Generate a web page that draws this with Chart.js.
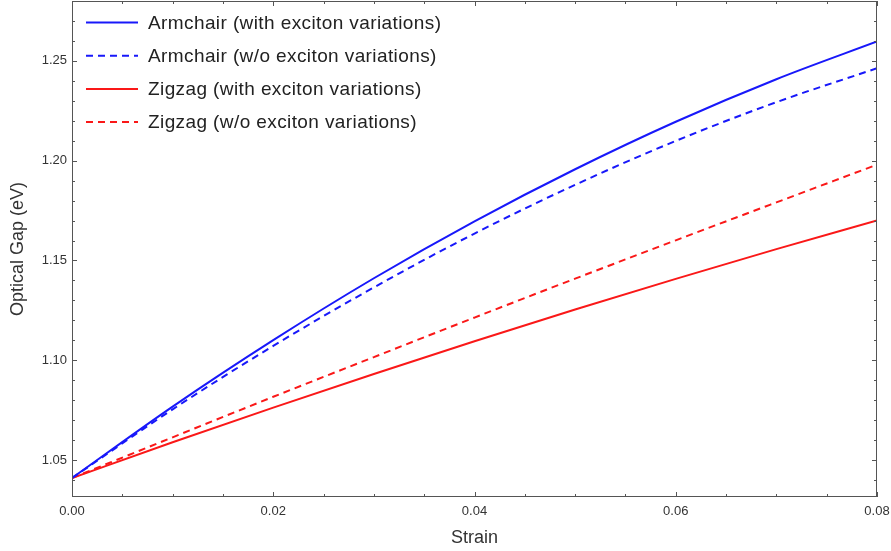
<!DOCTYPE html>
<html>
<head>
<meta charset="utf-8">
<script src="https://cdn.jsdelivr.net/npm/chart.js@4"></script>
<style>
  html, body { margin: 0; padding: 0; background: #fff; }
  #wrap { width: 891px; height: 551px; }
</style>
</head>
<body>
<div id="wrap"><canvas id="gapChart" width="891" height="551"></canvas></div>
<script>
// strain values and optical gap (eV) for each curve
const strain = [0, 0.01, 0.02, 0.03, 0.04, 0.05, 0.06, 0.07, 0.08];
const armchairWith = [1.041, 1.0768, 1.1101, 1.1411, 1.1696, 1.1957, 1.2195, 1.2408, 1.2597];
const armchairWithout = [1.041, 1.0754, 1.1072, 1.1365, 1.1635, 1.1879, 1.2099, 1.2293, 1.2463];
const zigzagWith = [1.041, 1.0589, 1.0763, 1.0931, 1.1095, 1.1254, 1.1408, 1.1557, 1.1700];
const zigzagWithout = [1.041, 1.0614, 1.0817, 1.1016, 1.1214, 1.1409, 1.1601, 1.1791, 1.1980];

const seriesLabels = [
    'Armchair (with exciton variations)',
    'Armchair (w/o exciton variations)',
    'Zigzag (with exciton variations)',
    'Zigzag (w/o exciton variations)'
];

const xTicks = [0, 0.02, 0.04, 0.06, 0.08];
const yTicks = [1.05, 1.10, 1.15, 1.20, 1.25];

const BLUE = 'rgb(24, 24, 250)';
const RED = 'rgb(250, 24, 24)';
const FRAME = '#555';
const FONT = "'Liberation Sans', Arial, sans-serif";

function toPoints(ys) {
    return strain.map((x, i) => ({ x: x, y: ys[i] }));
}

function makeSet(label, ys, color, dashed) {
    return {
        label: label,
        data: toPoints(ys),
        borderColor: color,
        backgroundColor: color,
        borderWidth: 2,
        borderDash: dashed ? [7, 5] : [],
        pointRadius: 0,
        fill: false,
        cubicInterpolationMode: 'monotone'
    };
}

// frame with inward major/minor ticks on all four sides
const frameTicks = {
    id: 'frameTicks',
    afterDatasetsDraw(chart) {
        const { ctx, chartArea: a, scales: { x, y } } = chart;
        ctx.save();
        ctx.strokeStyle = FRAME;
        ctx.lineWidth = 1;
        ctx.strokeRect(a.left + 0.5, a.top + 0.5, a.right - a.left - 1, a.bottom - a.top - 1);

        ctx.beginPath();
        for (let i = 0; i <= 16; i++) {
            const v = i * 0.005;
            const len = (i % 4 === 0) ? 5 : 3;
            const px = Math.round(x.getPixelForValue(v)) + 0.5;
            ctx.moveTo(px, a.bottom); ctx.lineTo(px, a.bottom - len);
            ctx.moveTo(px, a.top); ctx.lineTo(px, a.top + len);
        }
        for (let i = 4; i <= 27; i++) {
            const v = i / 100 + 1;
            const len = (i % 5 === 0) ? 5 : 3;
            const py = Math.round(y.getPixelForValue(v)) + 0.5;
            if (py < a.top || py > a.bottom) continue;
            ctx.moveTo(a.left, py); ctx.lineTo(a.left + len, py);
            ctx.moveTo(a.right, py); ctx.lineTo(a.right - len, py);
        }
        ctx.stroke();
        ctx.restore();
    }
};

// legend drawn inside the plot, top-left
const insideLegend = {
    id: 'insideLegend',
    afterDatasetsDraw(chart) {
        const { ctx, chartArea: a } = chart;
        ctx.save();
        ctx.font = '19px ' + FONT;
        ctx.letterSpacing = '0.4px';
        ctx.textBaseline = 'middle';
        ctx.textAlign = 'left';
        chart.data.datasets.forEach((ds, i) => {
            const yy = a.top + 21.5 + i * 33.2;
            ctx.strokeStyle = ds.borderColor;
            ctx.lineWidth = 2;
            ctx.setLineDash(ds.borderDash.length ? [7, 5] : []);
            ctx.beginPath();
            ctx.moveTo(a.left + 14, yy);
            ctx.lineTo(a.left + 66, yy);
            ctx.stroke();
            ctx.setLineDash([]);
            ctx.fillStyle = '#222';
            ctx.fillText(ds.label, a.left + 76, yy + 1);
        });
        ctx.restore();
    }
};

const ctx = document.getElementById('gapChart').getContext('2d');
new Chart(ctx, {
    type: 'line',
    data: {
        datasets: [
            makeSet(seriesLabels[0], armchairWith, BLUE, false),
            makeSet(seriesLabels[1], armchairWithout, BLUE, true),
            makeSet(seriesLabels[2], zigzagWith, RED, false),
            makeSet(seriesLabels[3], zigzagWithout, RED, true)
        ]
    },
    options: {
        responsive: false,
        animation: false,
        layout: { padding: { top: 1, right: 14, left: 0, bottom: 0 } },
        plugins: {
            legend: { display: false },
            tooltip: { enabled: false }
        },
        scales: {
            x: {
                type: 'linear',
                min: 0,
                max: 0.08,
                grid: { display: false, drawTicks: false },
                border: { display: false },
                afterBuildTicks: s => { s.ticks = xTicks.map(v => ({ value: v })); },
                afterFit: s => { s.height = 54; s.paddingLeft = 0; s.paddingRight = 0; },
                ticks: {
                    padding: 7,
                    color: '#333',
                    font: { family: FONT, size: 13 },
                    maxRotation: 0,
                    callback: v => v.toFixed(2)
                },
                title: {
                    display: true,
                    text: 'Strain',
                    color: '#333',
                    font: { family: FONT, size: 18 },
                    padding: { top: 0, bottom: 2 }
                }
            },
            y: {
                type: 'linear',
                min: 1.0315,
                max: 1.28,
                grid: { display: false, drawTicks: false },
                border: { display: false },
                afterBuildTicks: s => { s.ticks = yTicks.map(v => ({ value: v })); },
                afterFit: s => { s.width = 72; s.paddingTop = 0; s.paddingBottom = 0; },
                ticks: {
                    padding: 5,
                    color: '#333',
                    font: { family: FONT, size: 13 },
                    callback: v => v.toFixed(2)
                },
                title: {
                    display: true,
                    text: 'Optical Gap (eV)',
                    color: '#333',
                    font: { family: FONT, size: 18 },
                    padding: { top: 7, bottom: 0 }
                }
            }
        }
    },
    plugins: [frameTicks, insideLegend]
});
</script>
</body>
</html>
